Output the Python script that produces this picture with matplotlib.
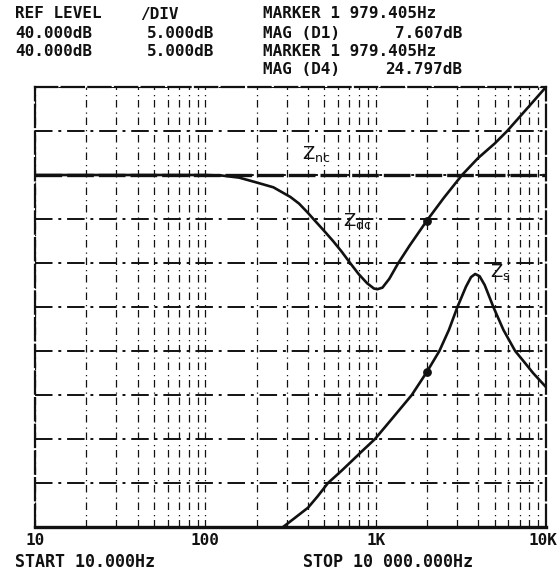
import numpy as np
import matplotlib
matplotlib.use('Agg')
import matplotlib.pyplot as plt
import matplotlib.transforms as mtransforms

# ---------------- data ----------------
zdc_freq = [10, 100, 126, 158, 200, 251, 316, 355, 398, 431, 501, 562, 631, 708,
            794, 891, 977, 1023, 1096, 1202, 1358, 1585, 1995, 2512, 3214, 3981,
            5012, 5916, 7943, 10000]
zdc_db = [30, 30.0, 29.93, 29.7, 29.15, 28.6, 27.5, 26.75, 25.75, 25.0, 23.6, 22.5,
          21.3, 20.0, 18.75, 17.7, 17.1, 17.02, 17.2, 18.2, 20.0, 22.0, 24.8, 27.4,
          30.0, 31.9, 33.6, 35.0, 37.8, 40]

zs_freq = [286, 339, 401, 457, 525, 631, 724, 851, 991, 1259, 1629, 1995, 2366,
           2692, 3020, 3388, 3631, 3837, 4074, 4365, 4909, 5623, 6592, 7413, 8395, 10000]
zs_db = [-10, -8.9, -7.8, -6.5, -5.0, -3.6, -2.5, -1.2, 0.0, 2.4, 5.0, 7.6, 10.0,
         12.4, 15.0, 17.3, 18.4, 18.75, 18.5, 17.5, 15.0, 12.4, 10.0, 8.8, 7.5, 5.9]

znc_freq = [10, 10000]
znc_db = [30, 30]

marker_plot_freq = [1995, 1995]
marker_db = [24.797, 7.607]

x_ticks = [10, 100, 1000, 10000]
x_ticklabels = ['10', '100', '1K', '10K']
y_ticks = list(range(-10, 41, 5))

header_rows = [
    ('REF LEVEL', '/DIV', 'MARKER 1 979.405Hz', ''),
    ('40.000dB', '5.000dB', 'MAG (D1)', '7.607dB'),
    ('40.000dB', '5.000dB', 'MARKER 1 979.405Hz', ''),
    ('', '', 'MAG (D4)', '24.797dB'),
]
footer_left = 'START 10.000Hz'
footer_right = 'STOP 10 000.000Hz'

# ---------------- figure ----------------
W, H = 559, 571
fig = plt.figure(figsize=(W / 100, H / 100), dpi=100)
L, R, T, B = 35, 546, 87, 527
ax = fig.add_axes([L / W, 1 - B / H, (R - L) / W, (B - T) / H])
ax.set_xscale('log')
ax.set_xlim(10, 10000)
ax.set_ylim(-10, 40)

ink = '#111111'
mono = 'DejaVu Sans Mono'

# grid
minor = [m * 10 ** d for d in (1, 2, 3) for m in range(2, 10)]
ax.set_xticks(x_ticks)
ax.set_xticks(minor, minor=True)
ax.set_xticklabels(x_ticklabels, fontfamily=mono, fontweight='bold', fontsize=11.5)
ax.set_yticks(y_ticks)
ax.tick_params(axis='y', labelleft=False, length=0)
ax.tick_params(axis='x', which='both', length=0, pad=4, colors=ink)
ax.tick_params(axis='x', which='minor', labelbottom=False)
ax.grid(True, axis='y', color=ink, lw=1.4, ls=(0, (9, 3, 1.5, 3)))
ax.grid(True, axis='x', which='both', color=ink, lw=0.9, ls=(0, (6, 3, 1, 4)))
ax.set_axisbelow(True)

lab = ax.get_xticklabels()
lab[-1].set_horizontalalignment('right')
lab[-1].set_transform(lab[-1].get_transform() +
                      mtransforms.ScaledTranslation(11 / 100, 0, fig.dpi_scale_trans))

for side in ('top', 'left', 'right'):
    ax.spines[side].set_linewidth(1.6)
    ax.spines[side].set_linestyle((0, (10, 2)))
    ax.spines[side].set_color(ink)
ax.spines['bottom'].set_linewidth(2.4)
ax.spines['bottom'].set_color(ink)

# curves
ax.plot(znc_freq, znc_db, color=ink, lw=2.4, ls=(0, (8, 1.5)), zorder=3)
ax.plot(zdc_freq, zdc_db, color=ink, lw=1.9, zorder=4, solid_joinstyle='round')
ax.plot(zs_freq, zs_db, color=ink, lw=1.9, zorder=4, solid_joinstyle='round')
ax.scatter(marker_plot_freq, marker_db, s=28, color=ink, zorder=5)

# curve labels
lab_kw = dict(fontsize=13, color=ink, ha='left', va='center', family='DejaVu Sans')
ax.text(1000 * 10 ** (-0.43), 32.4, r'$\mathregular{Z_{nc}}$', **lab_kw)
ax.text(1000 * 10 ** (-0.19), 24.8, r'$\mathregular{Z_{dc}}$', **lab_kw)
ax.text(1000 * 10 ** (0.67), 19.0, r'$\mathregular{Z_{s}}$', **lab_kw)

# header text
def ftext(x, y, s, ha='left', size=11.5):
    fig.text(x / W, 1 - y / H, s, ha=ha, va='center', fontfamily=mono,
             fontweight='bold', fontsize=size, color=ink)

row_y = [14, 33, 51, 70]
for (a, b, c, d), y in zip(header_rows, row_y):
    if a:
        ftext(15, y, a)
    if b:
        ftext(140 if b.startswith('/') else 147, y, b)
    if c:
        ftext(263, y, c)
    if d:
        ftext(462, y, d, ha='right')

ftext(15, 562, footer_left, size=12)
ftext(303, 562, footer_right, size=12)

fig.savefig('out.png', dpi=100, facecolor='white')
